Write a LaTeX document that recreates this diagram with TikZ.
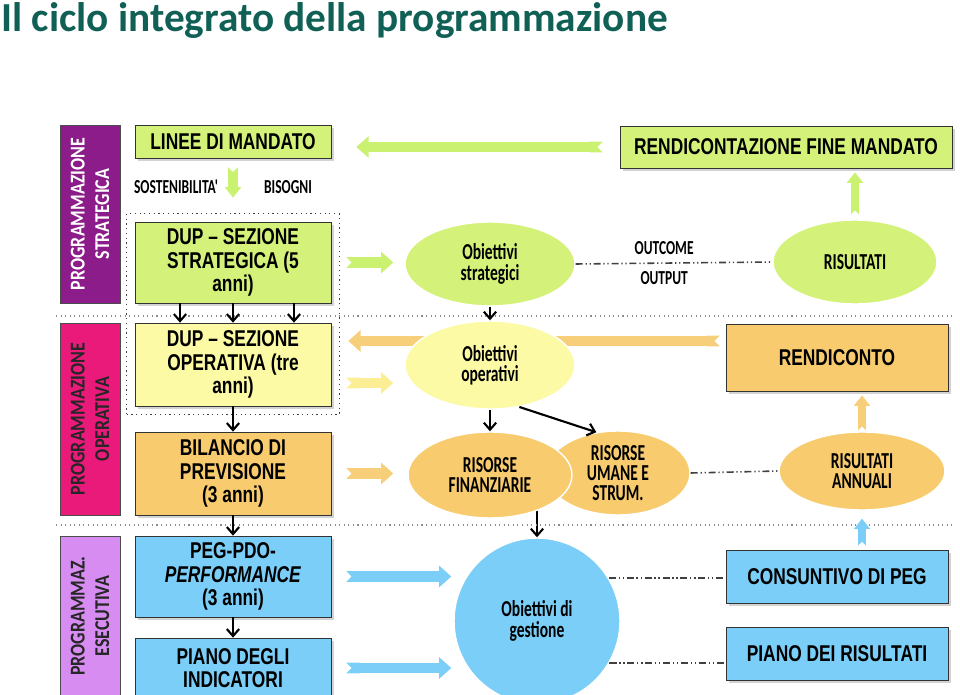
\documentclass[tikz,border=0pt]{standalone}
\usepackage{fontspec}
\setmainfont{Carlito}
\newfontfamily\diafont{Carlito}[FakeStretch=0.68]
\newfontfamily\bandfont{Carlito}[FakeStretch=0.85]
\newfontfamily\boxfont{Liberation Sans}[FakeStretch=0.76]
\usepackage{xcolor}
\usetikzlibrary{positioning,arrows.meta,calc,shapes.geometric,fit,backgrounds,shadows}

\definecolor{titleteal}{RGB}{16,96,86}
\definecolor{bandpurple}{RGB}{140,28,138}
\definecolor{bandpink}{RGB}{234,26,122}
\definecolor{bandviolet}{RGB}{214,140,240}
\definecolor{limefill}{RGB}{212,242,122}
\definecolor{limearrow}{RGB}{202,242,112}
\definecolor{yellowfill}{RGB}{252,250,165}
\definecolor{orangefill}{RGB}{248,204,110}
\definecolor{orangearrow}{RGB}{247,206,122}
\definecolor{bluefill}{RGB}{122,206,248}

\begin{document}
\begin{tikzpicture}[x=0.02cm, y=-0.02cm, >={Straight Barb[length=4pt,width=7pt]},
  every node/.style={font=\diafont\bfseries},
  band/.style={draw=black!70, fill=#1, rotate=90, minimum height=1.2cm,
               align=center, font=\bandfont\bfseries\fontsize{12}{14}\selectfont},
  box/.style={draw=black!80, fill=#1, minimum width=3.92cm, align=center,
              inner sep=1pt, font=\boxfont\bfseries\fontsize{13}{13.3}\selectfont,
              drop shadow={shadow xshift=1.5pt, shadow yshift=-1.5pt, opacity=0.35}},
  ell/.style={ellipse, fill=#1, draw=white, line width=0.8pt, inner sep=0pt,
              align=center, font=\diafont\bfseries\fontsize{13}{11.5}\selectfont},
  lbl/.style={font=\diafont\bfseries\fontsize{11.3}{12}\selectfont},
  fat/.style={draw=#1, line width=6pt, {Triangle Cap[reversed]}-{Triangle[length=7pt,width=12pt]}},
  fatup/.style={draw=#1, line width=4.5pt, {Triangle Cap[reversed]}-{Triangle[length=6pt,width=9pt]}},
  conn/.style={->, line width=1.2pt, black},
  dd/.style={draw=black!75, line width=0.9pt,
             dash pattern=on 4pt off 1.6pt on 0.7pt off 1.6pt on 0.7pt off 1.6pt}]

  \useasboundingbox (0,0) rectangle (960,695);

  %% ─── Title ─────────────────────────────────────────────────────────────
  \node[anchor=base west, inner sep=0pt, text=titleteal,
        font=\normalfont\bfseries\fontsize{23.5}{27}\selectfont] (title) at (1,32)
      {Il ciclo integrato della programmazione};

  %% ─── Bands on the left ─────────────────────────────────────────────────
  \node[band=bandpurple, text=white, minimum width=3.56cm] (bstr) at (90,214)
      {PROGRAMMAZIONE\\STRATEGICA};
  \node[band=bandpink, text=black!85, minimum width=3.84cm] (bop) at (90,419)
      {PROGRAMMAZIONE\\OPERATIVA};
  \node[band=bandviolet, text=black!85, minimum width=3.2cm] (bes) at (90,616)
      {PROGRAMMAZ.\\ESECUTIVA};

  \draw[black!45, dotted, line width=0.6pt] (56,316) -- (952,316);
  \draw[black!45, dotted, line width=0.6pt] (56,525) -- (952,525);

  %% ─── Left column of documents ──────────────────────────────────────────
  \node[box=limefill, minimum height=0.66cm]   (linee) at (233,141.5) {LINEE DI MANDATO};
  \node[lbl] (lblsost) at (176,187) {SOSTENIBILITA'};
  \node[lbl] (lblbis)  at (288,187) {BISOGNI};
  \node[box=limefill, minimum height=1.62cm]   (dupS)  at (233,262.5)
      {DUP – SEZIONE\\STRATEGICA (5\\anni)};
  \node[box=yellowfill, minimum height=1.66cm] (dupO)  at (233,364.5)
      {DUP – SEZIONE\\OPERATIVA (tre\\anni)};
  \node[draw=black!75, dotted, line width=0.7pt, fit=(dupS)(dupO), inner sep=0.16cm] (dupfit) {};
  \node[box=orangefill, minimum height=1.66cm] (bil)   at (233,473.5)
      {BILANCIO DI\\PREVISIONE\\(3 anni)};
  \node[box=bluefill, minimum height=1.62cm]   (peg)   at (233,576.5)
      {PEG-PDO-\\\textit{PERFORMANCE}\\(3 anni)};
  \node[box=bluefill, minimum height=1.2cm]    (piano) at (233,668)
      {PIANO DEGLI\\INDICATORI};

  %% ─── Objectives and resources ──────────────────────────────────────────
  \node[ell=limefill, minimum width=3.4cm, minimum height=1.68cm]   (ostr) at (490,264)
      {Obiettivi\\strategici};
  \node[ell=yellowfill, minimum width=3.4cm, minimum height=1.76cm] (oop)  at (490,365)
      {Obiettivi\\operativi};
  \node[ell=orangefill, minimum width=2.88cm, minimum height=1.68cm] (rum) at (618,473)
      {RISORSE\\UMANE E\\STRUM.};
  \node[ell=orangefill, minimum width=3.28cm, minimum height=1.72cm] (rfin) at (490,475)
      {RISORSE\\FINANZIARIE};
  \node[ell=bluefill, circle, minimum size=3.32cm] (oges) at (537,621)
      {Obiettivi di\\gestione};

  %% ─── Results on the right ──────────────────────────────────────────────
  \node[box=limefill, minimum width=6.64cm, minimum height=0.84cm] (rfm) at (786,147)
      {RENDICONTAZIONE FINE MANDATO};
  \node[ell=limefill, minimum width=3.28cm, minimum height=1.68cm] (ris) at (855,262)
      {RISULTATI};
  \node[box=orangefill, minimum width=4.44cm, minimum height=1.34cm] (rend) at (837,357.5)
      {RENDICONTO};
  \node[ell=orangefill, minimum width=3.32cm, minimum height=1.56cm] (risann) at (862,471)
      {RISULTATI\\ANNUALI};
  \node[box=bluefill, minimum width=4.44cm, minimum height=1.06cm] (cons) at (837,576.5)
      {CONSUNTIVO DI PEG};
  \node[box=bluefill, minimum width=4.44cm, minimum height=1.06cm] (pris) at (837,653.5)
      {PIANO DEI RISULTATI};

  %% ─── Block arrows ──────────────────────────────────────────────────────
  \draw[fat=limearrow, shorten <=0.34cm, shorten >=0.5cm] (rfm.west) -- (rfm.west -| linee.east);
  \draw[fatup=limearrow, line width=5.5pt, shorten <=0.18cm, shorten >=0.48cm] (linee.south) -- (dupS.north);
  \draw[fat=limearrow, shorten <=0.3cm, shorten >=0.22cm] (dupS.east) -- (dupS.east -| ostr.west);
  \draw[fatup=limearrow, shorten <=0.1cm, shorten >=0.08cm] (ris.north) -- (ris.north |- rfm.south);

  \coordinate (rendin) at ([yshift=0.33cm]rend.west);
  \coordinate (dupOout) at ([yshift=-0.37cm]dupO.east);
  \begin{scope}[on background layer]
    \draw[fat=orangearrow, shorten <=0.12cm, shorten >=0.34cm] (rendin) -- (rendin -| dupO.east);
    \draw[conn] (rfin.center -| oges.north) -- (oges.north);
  \end{scope}
  \draw[fat=yellowfill!90!orange, shorten <=0.3cm, shorten >=0.22cm] (dupOout) -- (dupOout -| oop.west);
  \draw[fat=orangearrow, shorten <=0.3cm, shorten >=0.28cm] (bil.east) -- (bil.east -| rfin.west);
  \draw[fatup=orangearrow, shorten <=0.02cm, shorten >=0.08cm] (risann.north) -- (risann.north |- rend.south);
  \draw[fat=bluefill, shorten <=0.3cm, shorten >=0.04cm] (peg.east) -- (peg.east -| oges.west);
  \draw[fat=bluefill, shorten <=0.3cm, shorten >=0.04cm] (piano.east) -- (piano.east -| oges.west);
  \draw[fatup=bluefill, shorten <=0.08cm, shorten >=0.16cm] (risann.south |- cons.north) -- (risann.south);

  %% ─── Black connectors ──────────────────────────────────────────────────
  \draw[conn] ([xshift=-1.06cm]dupS.south) -- ([xshift=-1.06cm]dupO.north);
  \draw[conn] (dupS.south) -- (dupO.north);
  \draw[conn] ([xshift=1.22cm]dupS.south) -- ([xshift=1.22cm]dupO.north);
  \draw[conn] (dupO.south) -- (bil.north);
  \draw[conn] (bil.south) -- (peg.north);
  \draw[conn] (peg.south) -- (piano.north);
  \draw[conn] (ostr) -- (oop);
  \draw[conn] (oop) -- (rfin);
  \draw[conn] (oop.-55) -- (rum.118);

  %% ─── Dash-dot links ────────────────────────────────────────────────────
  \draw[dd] (ostr.east) -- (ris.west)
      node[lbl, pos=0.45, above=1pt] (lblout) {OUTCOME}
      node[lbl, pos=0.45, below=1pt] (lblput) {OUTPUT};
  \draw[dd] (rum.east) -- (risann.west);
  \draw[dd] (oges.31) -- (oges.31 -| cons.west);
  \draw[dd] (oges.-30) -- (oges.-30 -| pris.west);
\end{tikzpicture}
\end{document}
